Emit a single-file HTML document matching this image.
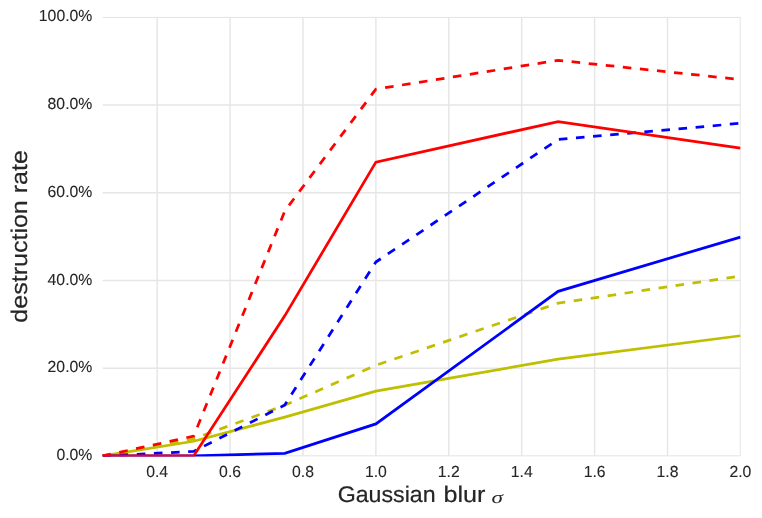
<!DOCTYPE html>
<html>
<head>
<meta charset="utf-8">
<title>destruction rate vs Gaussian blur</title>
<style>
html,body{margin:0;padding:0;background:#ffffff;}
body{width:762px;height:518px;overflow:hidden;font-family:"Liberation Sans",sans-serif;}
svg{display:block;}
text{font-family:"Liberation Sans",sans-serif;fill:#262626;text-rendering:geometricPrecision;}
.tick{font-size:16px;stroke:#262626;stroke-width:0.1px;}
.lab{font-size:22.6px;stroke:#262626;stroke-width:0.2px;}
.sig{font-family:"Liberation Serif",serif;font-style:italic;font-size:17.6px;}
</style>
</head>
<body>
<svg width="762" height="518" viewBox="0 0 762 518">
<rect x="0" y="0" width="762" height="518" fill="#ffffff"/>

<defs><clipPath id="ax"><rect x="102.50" y="16.85" width="638.20" height="439.60"/></clipPath></defs>
<g stroke="#e6e6e6" stroke-width="1.45" fill="none" clip-path="url(#ax)">
<line x1="157.18" y1="17.15" x2="157.18" y2="455.95"/>
<line x1="230.08" y1="17.15" x2="230.08" y2="455.95"/>
<line x1="302.98" y1="17.15" x2="302.98" y2="455.95"/>
<line x1="375.89" y1="17.15" x2="375.89" y2="455.95"/>
<line x1="448.79" y1="17.15" x2="448.79" y2="455.95"/>
<line x1="521.69" y1="17.15" x2="521.69" y2="455.95"/>
<line x1="594.59" y1="17.15" x2="594.59" y2="455.95"/>
<line x1="667.50" y1="17.15" x2="667.50" y2="455.95"/>
<line x1="740.40" y1="17.15" x2="740.40" y2="455.95"/>
<line x1="102.50" y1="455.95" x2="740.40" y2="455.95"/>
<line x1="102.50" y1="368.19" x2="740.40" y2="368.19"/>
<line x1="102.50" y1="280.43" x2="740.40" y2="280.43"/>
<line x1="102.50" y1="192.67" x2="740.40" y2="192.67"/>
<line x1="102.50" y1="104.91" x2="740.40" y2="104.91"/>
<line x1="102.50" y1="17.15" x2="740.40" y2="17.15"/>
</g>
<g fill="none" stroke-width="2.75" stroke-linejoin="round" clip-path="url(#ax)">
<polyline points="102.50,455.95 193.63,441.25 284.76,417.12 375.89,391.10 558.14,359.11 740.40,335.76" stroke="#bfbf00" stroke-linejoin="miter"/>
<polyline points="102.50,455.95 193.63,438.84 284.76,405.27 375.89,365.29 558.14,303.16 740.40,276.00" stroke="#bfbf00" stroke-dasharray="8.58 8.58"/>
<polyline points="102.50,455.95 193.63,455.95 284.76,453.32 375.89,423.92 558.14,291.31 740.40,237.08" stroke="#0000ff" stroke-linejoin="miter"/>
<polyline points="102.50,455.95 193.63,451.43 284.76,405.05 375.89,262.00 558.14,139.49 740.40,123.30" stroke="#0000ff" stroke-dasharray="8.58 8.58"/>
<polyline points="102.50,455.95 193.63,455.95 284.76,315.84 375.89,162.17 558.14,121.54 740.40,148.22" stroke="#ff0000" stroke-linejoin="miter"/>
<polyline points="102.50,455.95 193.63,436.20 284.76,211.10 375.89,89.16 558.14,60.28 740.40,79.55" stroke="#ff0000" stroke-dasharray="8.58 8.58"/>
</g>
<g opacity="0.999">
<text class="tick" text-anchor="end" transform="translate(92.3,460.20) scale(0.985,1)">0.0%</text>
<text class="tick" text-anchor="end" transform="translate(92.3,372.44) scale(0.985,1)">20.0%</text>
<text class="tick" text-anchor="end" transform="translate(92.3,284.68) scale(0.985,1)">40.0%</text>
<text class="tick" text-anchor="end" transform="translate(92.3,196.92) scale(0.985,1)">60.0%</text>
<text class="tick" text-anchor="end" transform="translate(92.3,109.16) scale(0.985,1)">80.0%</text>
<text class="tick" text-anchor="end" transform="translate(92.3,21.40) scale(0.985,1)">100.0%</text>
<text class="tick" text-anchor="middle" transform="translate(157.18,476.7) scale(0.985,1)">0.4</text>
<text class="tick" text-anchor="middle" transform="translate(230.08,476.7) scale(0.985,1)">0.6</text>
<text class="tick" text-anchor="middle" transform="translate(302.98,476.7) scale(0.985,1)">0.8</text>
<text class="tick" text-anchor="middle" transform="translate(375.89,476.7) scale(0.985,1)">1.0</text>
<text class="tick" text-anchor="middle" transform="translate(448.79,476.7) scale(0.985,1)">1.2</text>
<text class="tick" text-anchor="middle" transform="translate(521.69,476.7) scale(0.985,1)">1.4</text>
<text class="tick" text-anchor="middle" transform="translate(594.59,476.7) scale(0.985,1)">1.6</text>
<text class="tick" text-anchor="middle" transform="translate(667.50,476.7) scale(0.985,1)">1.8</text>
<text class="tick" text-anchor="middle" transform="translate(740.40,476.7) scale(0.985,1)">2.0</text>
<text class="lab" transform="translate(337.7,502.4) scale(1.025,1)">Gaussian</text>
<text class="lab" transform="translate(443.4,502.4) scale(1.114,1)">blur</text>
<text class="sig" transform="translate(491.5,502.6) scale(1.32,1)">σ</text>
<text class="lab" text-anchor="middle" transform="translate(27.0,236.4) rotate(-90) scale(1.108,1)">destruction rate</text>
</g>
</svg>
</body>
</html>
